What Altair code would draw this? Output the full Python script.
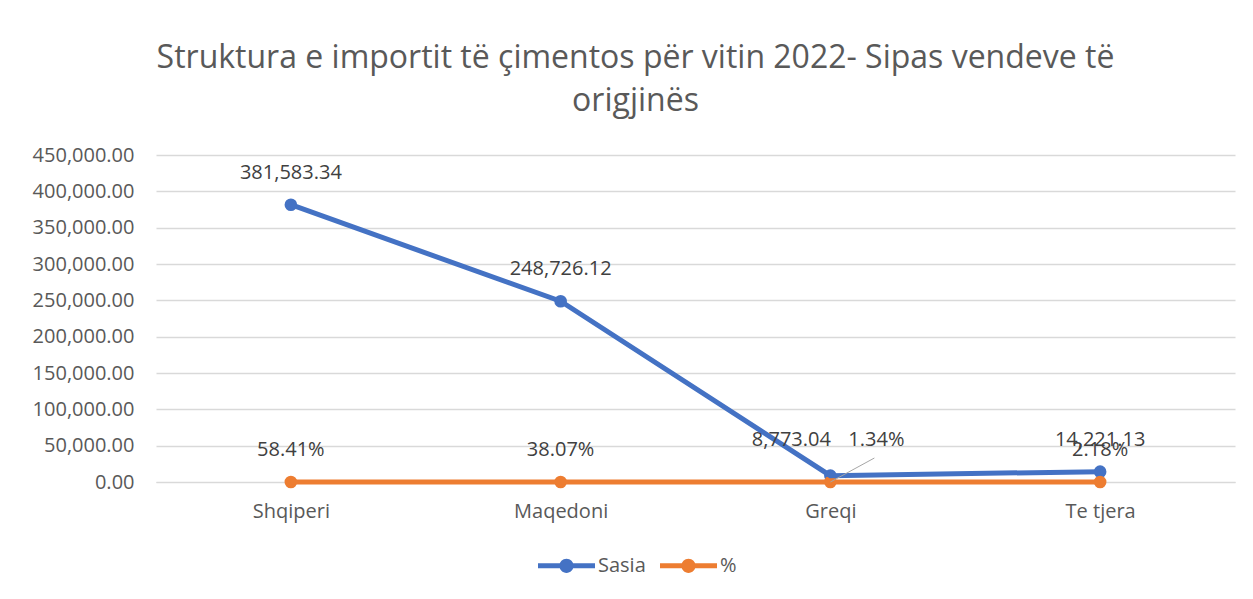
import altair as alt
import pandas as pd

categories = ["Shqiperi", "Maqedoni", "Greqi", "Te tjera"]
sasia = [381583.34, 248726.12, 8773.04, 14221.13]
pct = [0.5841, 0.3807, 0.0134, 0.0218]
series_names = ["Sasia", "%"]
colors = ["#4472C4", "#ED7D31"]
title_lines = ["Struktura e importit të çimentos për vitin 2022- Sipas vendeve të", "origjinës"]

rows = []
for i, (c, s, p) in enumerate(zip(categories, sasia, pct)):
    rows.append({"cat": c, "idx": i, "series": "Sasia", "value": s, "label": f"{s:,.2f}"})
    rows.append({"cat": c, "idx": i, "series": "%", "value": p, "label": f"{p*100:.2f}%"})
df = pd.DataFrame(rows)

FONT = "Open Sans"
FS = 20
legend_path = ("M-1,-0.09L1,-0.09L1,0.09L-1,0.09Z "
               "M-0.25,0A0.25,0.25 0 1,1 0.25,0A0.25,0.25 0 1,1 -0.25,0Z")

x_enc = alt.X("cat:N", sort=categories, title=None,
              scale=alt.Scale(type="point", padding=0.5),
              axis=alt.Axis(labelAngle=0, labelFontSize=FS, labelColor="#595959",
                            labelFont=FONT, ticks=False, domainColor="#d9d9d9",
                            labelPadding=19, grid=False))
y_enc = alt.Y("value:Q", title=None,
              scale=alt.Scale(domain=[0, 450000], nice=False),
              axis=alt.Axis(values=list(range(0, 450001, 50000)), format=",.2f",
                            labelFontSize=FS, labelColor="#595959", labelFont=FONT,
                            ticks=False, domain=False, gridColor="#d9d9d9",
                            gridWidth=1.3, labelPadding=22))
color_enc = alt.Color("series:N", scale=alt.Scale(domain=series_names, range=colors),
                      title=None,
                      legend=alt.Legend(orient="none", legendX=382, legendY=382,
                                        direction="horizontal", symbolType=legend_path,
                                        symbolSize=3249, symbolStrokeWidth=0,
                                        labelFontSize=FS, labelColor="#595959",
                                        labelFont=FONT, labelOffset=3,
                                        columnPadding=14))

base = alt.Chart(df)

points = base.mark_circle(size=160, opacity=1).encode(x=x_enc, y=y_enc, color=color_enc)
lines = base.mark_line(strokeWidth=5).encode(x=x_enc, y=y_enc, color=color_enc, order="idx:Q")

text_main = base.transform_filter(alt.datum.cat != "Greqi").mark_text(
    fontSize=FS, font=FONT, color="#404040", baseline="middle", dy=-32
).encode(x=x_enc, y=y_enc, text="label:N")

text_g_s = base.transform_filter((alt.datum.cat == "Greqi") & (alt.datum.series == "Sasia")).mark_text(
    fontSize=FS, font=FONT, color="#404040", baseline="middle", dx=-39, dy=-36
).encode(x=x_enc, y=y_enc, text="label:N")

text_g_p = base.transform_filter((alt.datum.cat == "Greqi") & (alt.datum.series == "%")).mark_text(
    fontSize=FS, font=FONT, color="#404040", baseline="middle", dx=46, dy=-42
).encode(x=x_enc, y=y_enc, text="label:N")

leader = base.transform_filter((alt.datum.cat == "Greqi") & (alt.datum.series == "%")).mark_rule(
    color="#a6a6a6", strokeWidth=1, x2Offset=44, y2Offset=-24
).encode(x=x_enc, y=y_enc, x2="cat:N", y2="value:Q")

chart = alt.layer(points, lines, leader, text_main, text_g_s, text_g_p).properties(
    width=1079, height=327,
    title=alt.TitleParams(text=title_lines, fontSize=32, font=FONT, color="#595959",
                          fontWeight="normal", anchor="middle", dx=-60, offset=27,
                          lineHeight=43),
    padding={"left": 148, "top": 147, "right": 10, "bottom": 110},
    autosize=alt.AutoSizeParams(type="none"),
    background="white",
).configure_view(stroke=None)

chart.save("out.html", embed_options={"renderer": "svg", "actions": False})
